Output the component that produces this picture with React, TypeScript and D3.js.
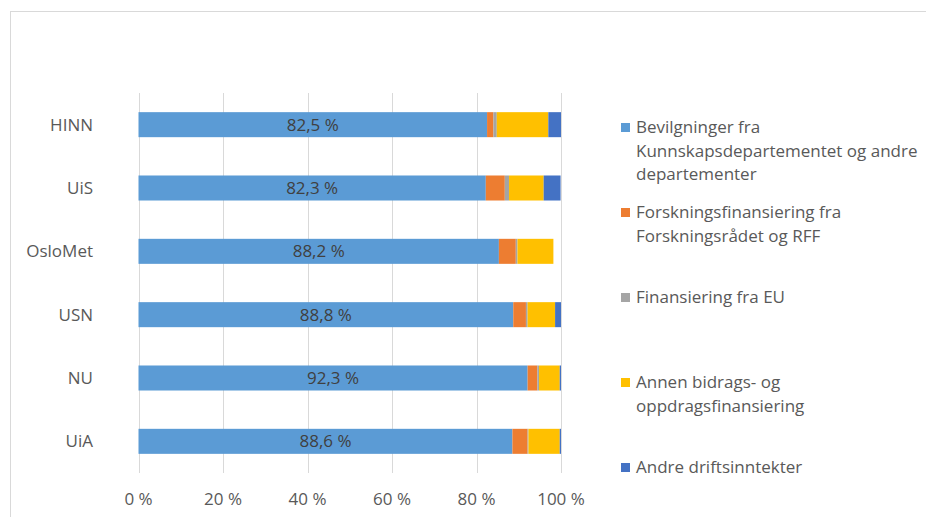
import React from "react";
import * as d3 from "d3";

const categories = ["HINN", "UiS", "OsloMet", "USN", "NU", "UiA"];
const seriesNames = [
  "Bevilgninger fra Kunnskapsdepartementet og andre departementer",
  "Forskningsfinansiering fra Forskningsrådet og RFF",
  "Finansiering fra EU",
  "Annen bidrags- og oppdragsfinansiering",
  "Andre driftsinntekter",
];
const legendLines = [
  ["Bevilgninger fra", "Kunnskapsdepartementet og andre", "departementer"],
  ["Forskningsfinansiering fra", "Forskningsrådet og RFF"],
  ["Finansiering fra EU"],
  ["Annen bidrags- og", "oppdragsfinansiering"],
  ["Andre driftsinntekter"],
];
const colors = ["#5B9BD5", "#ED7D31", "#A5A5A5", "#FFC000", "#4472C4"];

// values in percent, per category (same order as categories)
const kdValues = [82.5, 82.2, 85.3, 88.7, 92.1, 88.5];
const forskValues = [1.5, 4.5, 4.0, 3.0, 2.3, 3.6];
const euValues = [0.8, 1.0, 0.4, 0.4, 0.4, 0.2];
const bidragValues = [12.2, 8.2, 8.5, 6.5, 4.9, 7.4];
const andreValues = [3.0, 4.0, 0.0, 1.4, 0.3, 0.3];
const dataLabels = ["82,5 %", "82,3 %", "88,2 %", "88,8 %", "92,3 %", "88,6 %"];
const ticks = [0, 20, 40, 60, 80, 100];

const FONT = "'Open Sans', sans-serif";
const W = 926;
const H = 517;

export default function App() {
  const series = [kdValues, forskValues, euValues, bidragValues, andreValues];
  const x = d3.scaleLinear().domain([0, 100]).range([138.5, 561]);
  const y = d3
    .scaleBand<string>()
    .domain(categories)
    .range([93, 473])
    .paddingInner(0.605)
    .paddingOuter(0.3025);

  const rows = categories.map((c, i) => {
    const obj: Record<string, number | string> = { cat: c };
    seriesNames.forEach((s, j) => (obj[s] = series[j][i]));
    return obj;
  });
  const stack = d3.stack<any>().keys(seriesNames)(rows as any);

  const legendX = 621;
  const legendTextX = 636;
  const legendFirstBaseline = 133;
  const legendStep = 85;
  const lineH = 23.5;

  return (
    <svg
      width={W}
      height={H}
      style={{ position: "absolute", left: 0, top: 0, background: "#fff" }}
      fontFamily={FONT}
    >
      <rect x={10.5} y={11.5} width={W + 10} height={H + 10} fill="#fff" stroke="#d9d9d9" strokeWidth={1} />
      {ticks.map((t) => (
        <line
          key={t}
          x1={Math.round(x(t)) + 0.5}
          x2={Math.round(x(t)) + 0.5}
          y1={93}
          y2={473}
          stroke="#d9d9d9"
          strokeWidth={1}
        />
      ))}
      {stack.map((layer, j) => (
        <g key={j} fill={colors[j]}>
          {layer.map((d: any, i: number) => (
            <rect
              key={i}
              x={x(d[0])}
              y={y(categories[i])}
              width={Math.max(0, x(d[1]) - x(d[0]))}
              height={y.bandwidth()}
            />
          ))}
        </g>
      ))}
      {categories.map((c, i) => (
        <text
          key={c}
          x={(x(0) + x(kdValues[i])) / 2}
          y={(y(c) as number) + y.bandwidth() / 2}
          dy="0.36em"
          textAnchor="middle"
          fontSize={17}
          fill="#404040"
        >
          {dataLabels[i]}
        </text>
      ))}
      {categories.map((c) => (
        <text
          key={c}
          x={93}
          y={(y(c) as number) + y.bandwidth() / 2}
          dy="0.36em"
          textAnchor="end"
          fontSize={17}
          fill="#595959"
        >
          {c}
        </text>
      ))}
      {ticks.map((t) => (
        <text key={t} x={x(t)} y={505} textAnchor="middle" fontSize={17} fill="#595959">
          {t + "\u00a0%"}
        </text>
      ))}
      {legendLines.map((lines, i) => {
        const base = legendFirstBaseline + i * legendStep;
        return (
          <g key={i}>
            <rect x={legendX} y={base - 10} width={9} height={9} fill={colors[i]} />
            {lines.map((l, k) => (
              <text key={k} x={legendTextX} y={base + k * lineH} fontSize={17} fill="#595959">
                {l}
              </text>
            ))}
          </g>
        );
      })}
    </svg>
  );
}
